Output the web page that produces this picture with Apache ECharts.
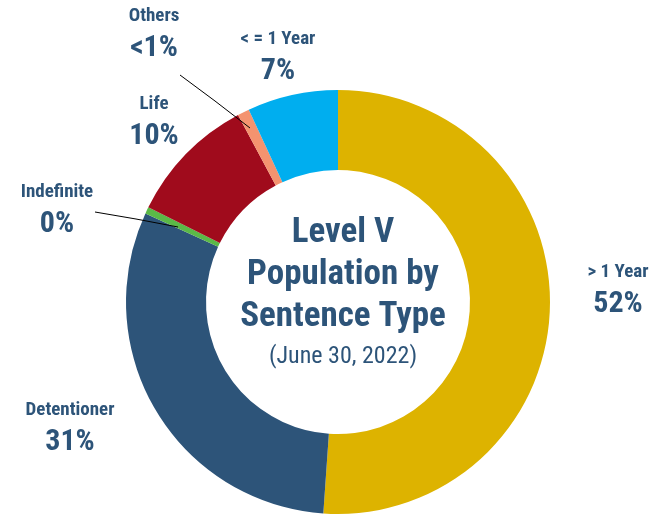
<!DOCTYPE html>
<html>
<head>
<meta charset="utf-8">
<script src="https://cdn.jsdelivr.net/npm/echarts@6/dist/echarts.min.js"></script>
<style>
  html, body { margin: 0; padding: 0; background: #fff; }
  #chart { width: 652px; height: 515px; }
</style>
</head>
<body>
<div id="chart"></div>
<script>
// sentence types, clockwise from 12 o'clock
const categories = ['> 1 Year', 'Detentioner', 'Indefinite', 'Life', 'Others', '< = 1 Year']
const shares = [51.0, 30.7, 0.5, 9.8, 0.9, 6.9]
const shareLabels = ['52%', '31%', '0%', '10%', '<1%', '7%']
const colors = ['#DDB300', '#2D5479', '#5BB947', '#A00B1C', '#F4936F', '#00AEEF']

const textColor = '#2D5479'
const fontStack = "'Roboto Condensed', 'Liberation Sans Narrow', 'DejaVu Sans Condensed', Roboto, sans-serif"

// where each label sits (top centre of the text block)
const labelPos = [
  { x: 618, y: 259 },
  { x: 70, y: 397 },
  { x: 57, y: 179 },
  { x: 154, y: 91 },
  { x: 154, y: 3 },
  { x: 278, y: 26 },
]
const leaderLines = {
  2: [[95, 212], [136, 219], [178, 227]],
  4: [[180, 75], [215, 101], [250, 128]],
}

const pieBase = {
  type: 'pie',
  center: [338, 302],
  radius: [132, 212],
  startAngle: 90,
  clockwise: true,
  silent: true,
}

const chart = echarts.init(document.getElementById('chart'))

chart.setOption({
  animation: false,
  title: {
    text: 'Level V\nPopulation by\nSentence Type',
    subtext: '(June 30, 2022)',
    left: 338,
    top: 207,
    textAlign: 'center',
    itemGap: 4,
    textStyle: {
      color: textColor,
      fontFamily: fontStack,
      fontWeight: 'bold',
      fontSize: 35,
      lineHeight: 42,
    },
    subtextStyle: {
      color: textColor,
      fontFamily: fontStack,
      fontSize: 24,
      lineHeight: 30,
    },
  },
  series: [
    {
      ...pieBase,
      z: 2,
      label: { show: false },
      labelLine: { show: false },
      data: categories.map((name, i) => ({
        name,
        value: shares[i],
        itemStyle: { color: colors[i] },
      })),
    },
    // same slices, invisible, only carrying labels and leader lines on top
    {
      ...pieBase,
      z: 3,
      itemStyle: { color: 'rgba(0,0,0,0)' },
      data: categories.map((name, i) => ({
        name,
        value: shares[i],
        labelLine: { show: leaderLines[i] != null },
      })),
      label: {
        show: true,
        position: 'outside',
        overflow: 'none',
        formatter: p => `{n|${p.name}}\n{v|${shareLabels[p.dataIndex]}}`,
        rich: {
          n: { color: textColor, fontFamily: fontStack, fontWeight: 'bold', fontSize: 19, lineHeight: 27, align: 'center' },
          v: { color: textColor, fontFamily: fontStack, fontWeight: 'bold', fontSize: 30, lineHeight: 36, align: 'center' },
        },
      },
      labelLine: {
        lineStyle: { color: '#000', width: 1 },
      },
      labelLayout: p => {
        const pos = labelPos[p.dataIndex]
        const out = { x: pos.x, y: pos.y, align: 'center', verticalAlign: 'top' }
        if (leaderLines[p.dataIndex]) out.labelLinePoints = leaderLines[p.dataIndex]
        return out
      },
    },
  ],
})
</script>
</body>
</html>
